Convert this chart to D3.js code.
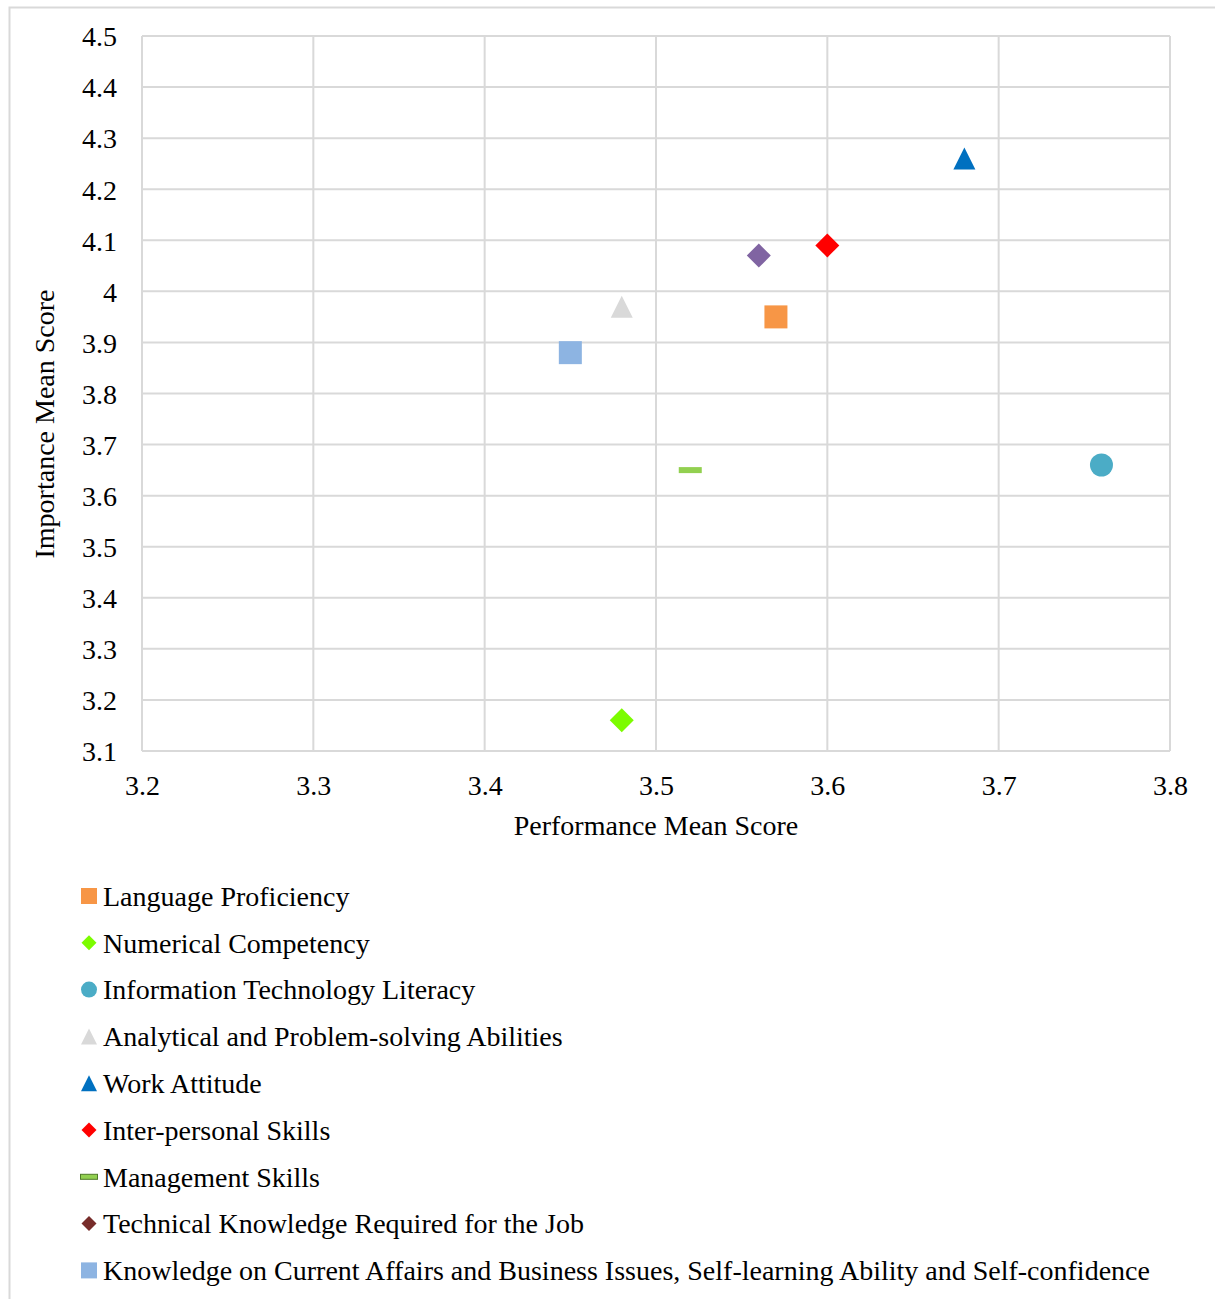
<!DOCTYPE html>
<html>
<head>
<meta charset="utf-8">
<script src="https://cdn.jsdelivr.net/npm/d3@7"></script>
<style>
  html, body { margin: 0; padding: 0; background: #fff; }
  svg text { font-family: "Liberation Serif", "Times New Roman", serif !important; fill: #000; }
</style>
</head>
<body>
<svg id="chart" width="1215" height="1299"></svg>
<script>
// Skill categories and their mean scores
const categories = [
  "Language Proficiency",
  "Numerical Competency",
  "Information Technology Literacy",
  "Analytical and Problem-solving Abilities",
  "Work Attitude",
  "Inter-personal Skills",
  "Management Skills",
  "Technical Knowledge Required for the Job",
  "Knowledge on Current Affairs and Business Issues, Self-learning Ability and Self-confidence"
];
const performance = [3.57, 3.48, 3.76, 3.48, 3.68, 3.60, 3.52, 3.56, 3.45];
const importance  = [3.95, 3.16, 3.66, 3.97, 4.26, 4.09, 3.65, 4.07, 3.88];
const markerShapes = ["square", "diamond", "circle", "triangle", "triangle", "diamond", "dash", "diamond", "square"];
const markerColors = ["#F79646", "#7CFC00", "#4BACC6", "#D9D9D9", "#0070C0", "#FF0000", "#92D050", "#8064A2", "#8DB4E2"];
const legendColors = ["#F79646", "#7CFC00", "#4BACC6", "#D9D9D9", "#0070C0", "#FF0000", "#92D050", "#772C2A", "#8DB4E2"];

const xTicks = [3.2, 3.3, 3.4, 3.5, 3.6, 3.7, 3.8];
const yTicks = [3.1, 3.2, 3.3, 3.4, 3.5, 3.6, 3.7, 3.8, 3.9, 4.0, 4.1, 4.2, 4.3, 4.4, 4.5];

const svg = d3.select("#chart");
const grid = "#d9d9d9";
const FS = 28;

// Chart frame
svg.append("path")
  .attr("d", "M9.5,1299 V7.5 H1215")
  .attr("fill", "none").attr("stroke", grid).attr("stroke-width", 2);

const plot = { left: 142, right: 1170, top: 36, bottom: 751 };
const x = d3.scaleLinear().domain([3.2, 3.8]).range([plot.left, plot.right]);
const y = d3.scaleLinear().domain([3.1, 4.5]).range([plot.bottom, plot.top]);

// Gridlines
svg.append("g").selectAll("line").data(xTicks).join("line")
  .attr("x1", d => x(d)).attr("x2", d => x(d))
  .attr("y1", plot.top).attr("y2", plot.bottom)
  .attr("stroke", grid).attr("stroke-width", 2);
svg.append("g").selectAll("line").data(yTicks).join("line")
  .attr("x1", plot.left).attr("x2", plot.right)
  .attr("y1", d => y(d)).attr("y2", d => y(d))
  .attr("stroke", grid).attr("stroke-width", 2);

// Axes (labels only; grid draws the lines)
const fmt = d => (Math.abs(d - 4) < 1e-9 ? "4" : d3.format(".1f")(d));
const xAxis = svg.append("g").attr("transform", `translate(0,${plot.bottom})`)
  .call(d3.axisBottom(x).tickValues(xTicks).tickFormat(fmt).tickSize(0).tickPadding(23));
const yAxis = svg.append("g").attr("transform", `translate(${plot.left},0)`)
  .call(d3.axisLeft(y).tickValues(yTicks).tickFormat(fmt).tickSize(0).tickPadding(25));
[xAxis, yAxis].forEach(a => {
  a.attr("font-family", null).attr("font-size", null);
  a.select(".domain").remove();
  a.selectAll("text").style("font-size", FS + "px").attr("fill", "#000");
});
xAxis.selectAll("text").attr("dy", "0.35em").attr("y", 34);
yAxis.selectAll("text").attr("dy", "0.35em");

// Axis titles
svg.append("text").attr("x", (plot.left + plot.right) / 2).attr("y", 825).attr("dy", "0.35em")
  .attr("text-anchor", "middle").style("font-size", FS + "px").text("Performance Mean Score");
svg.append("text").attr("transform", `translate(44,424) rotate(-90)`).attr("dy", "0.35em")
  .attr("text-anchor", "middle").style("font-size", FS + "px").text("Importance Mean Score");

// Marker drawing
function drawMarker(g, shape, size, color, legend) {
  const h = size / 2;
  if (shape === "square") {
    g.append("rect").attr("x", -h).attr("y", -h).attr("width", size).attr("height", size).attr("fill", color);
  } else if (shape === "diamond") {
    g.append("path").attr("d", `M0,${-h} L${h},0 L0,${h} L${-h},0 Z`).attr("fill", color);
  } else if (shape === "circle") {
    g.append("circle").attr("r", h).attr("fill", color);
  } else if (shape === "triangle") {
    g.append("path").attr("d", `M0,${-h} L${h},${h} L${-h},${h} Z`).attr("fill", color);
  } else if (shape === "dash") {
    const t = legend ? 5 : 6;
    g.append("rect").attr("x", -h).attr("y", -t / 2).attr("width", size).attr("height", t)
      .attr("fill", color).attr("stroke", legend ? "#4F7A28" : "none").attr("stroke-width", legend ? 1 : 0);
  }
}

const data = categories.map((c, i) => ({
  name: c, px: performance[i], iy: importance[i],
  shape: markerShapes[i], color: markerColors[i], lcolor: legendColors[i]
}));

// Points
svg.append("g").selectAll("g").data(data).join("g")
  .attr("transform", d => `translate(${x(d.px)},${y(d.iy)})`)
  .each(function (d) {
    const s = d.shape === "diamond" ? 24 : (d.shape === "triangle" ? 22 : 23);
    drawMarker(d3.select(this), d.shape, s, d.color, false);
  });

// Legend
const legend = svg.append("g");
const rowY = i => 896 + i * 46.8;
const rows = legend.selectAll("g").data(data).join("g")
  .attr("transform", (d, i) => `translate(0,${rowY(i)})`);
rows.each(function (d) {
  const g = d3.select(this).append("g").attr("transform", "translate(89,0)");
  const s = d.shape === "diamond" ? 15 : (d.shape === "circle" ? 16 : (d.shape === "dash" ? 17 : 16));
  drawMarker(g, d.shape, s, d.lcolor, true);
});
rows.append("text").attr("x", 103).attr("y", 0).attr("dy", "0.35em")
  .style("font-size", FS + "px").text(d => d.name);
</script>
</body>
</html>
